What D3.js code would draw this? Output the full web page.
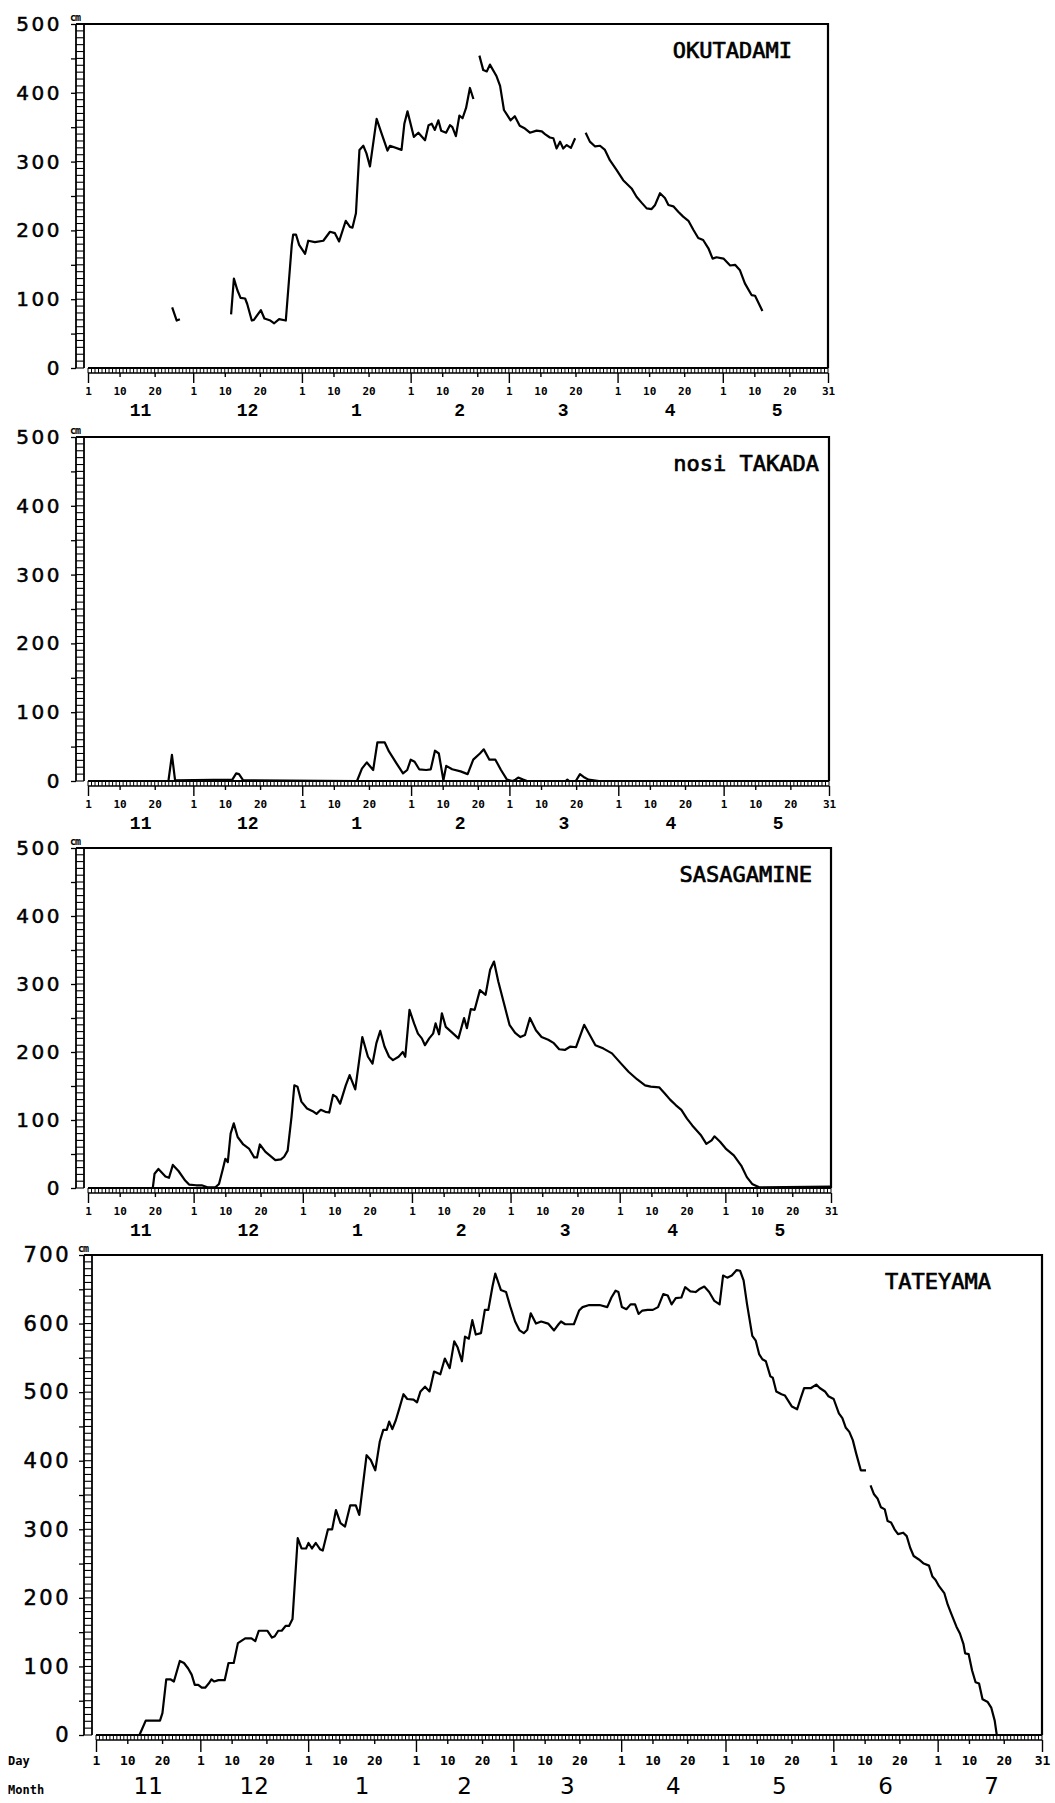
<!DOCTYPE html>
<meta charset="utf-8">
<script src="https://d3js.org/d3.v7.min.js"></script>
<style>
  body { margin: 0; background: #fff; }
</style>
<div id="chart"></div>
<script>

// ---------- data ----------
// month labels under the day axis
var monthsToMay = ["11", "12", "1", "2", "3", "4", "5"];
var monthsToJul = ["11", "12", "1", "2", "3", "4", "5", "6", "7"];
// days of the month that get a tick label
var dayTicks = [1, 10, 20];
// depth axis labels (cm)
var depthTicks500 = [0, 100, 200, 300, 400, 500];
var depthTicks700 = [0, 100, 200, 300, 400, 500, 600, 700];

// snow depth, day = days after 1 Nov, cm = depth; null = gap in the record
var okutadamiDay = [24.0, 25.3, 26.2, null,
  40.8, 41.6, 42.6, 43.5, 44.8, 45.4, 46.7, 47.3, 49.3, 50.3,
  52.0, 53.1, 54.5, 56.4, 58.1, 58.5, 59.3, 60.2, 61.9, 62.8,
  64.7, 67.1, 69.0, 70.4, 71.6, 73.5, 74.7, 75.4, 76.4, 77.4,
  78.5, 79.4, 80.4, 82.3, 83.7, 85.4, 86.1, 89.4, 90.2, 91.1,
  92.9, 94.2, 96.1, 97.1, 98.0, 98.9, 99.9, 100.7, 102.1, 103.2,
  103.9, 104.9, 105.9, 106.8, 107.8, 108.9, 109.9, null,
  111.6, 112.7, 113.7, 114.6, 116.5, 117.5, 118.6, 120.5, 121.7, 123.1,
  124.6, 126.0, 127.9, 129.4, 130.3, 131.7, 132.7, 133.6, 134.6, 135.5,
  136.5, 137.7, 138.9, null,
  141.9, 143.1, 144.6, 146.0, 147.4, 148.8, 150.7, 152.6, 155.0, 156.4,
  157.9, 159.3, 160.7, 161.7, 163.1, 164.5, 165.5, 166.9, 168.3, 169.7,
  171.2, 172.6, 174.0, 175.4, 176.9, 178.1, 179.2, 181.2, 183.1, 184.5,
  185.9, 187.3, 189.2, 190.2, 192.3];
var okutadamiCm = [88, 69, 71, null,
  78, 130, 113, 102, 101, 93, 69, 70, 84, 72,
  69, 65, 71, 69, 179, 194, 194, 179, 166, 185,
  183, 185, 198, 196, 184, 214, 205, 204, 225, 317,
  323, 312, 293, 362, 341, 316, 323, 317, 355, 373,
  336, 342, 331, 353, 355, 346, 360, 345, 342, 353,
  350, 337, 367, 363, 378, 407, 391, null,
  454, 433, 431, 441, 424, 410, 375, 360, 366, 352,
  348, 342, 345, 344, 340, 335, 334, 319, 329, 319,
  324, 320, 334, null,
  342, 329, 322, 323, 317, 302, 288, 273, 261, 249,
  240, 232, 231, 237, 254, 247, 237, 235, 227, 220,
  214, 201, 189, 186, 174, 159, 161, 159, 149, 150,
  142, 123, 106, 105, 83];

var takadaDay = [0, 22.9, 23.9, 24.8, 41.1, 42.2, 43.0, 44.2, 76.6, 78.0,
  79.4, 81.2, 82.4, 84.5, 85.7, 87.8, 89.7, 90.9, 91.9, 93.0,
  94.3, 96.3, 97.6, 98.8, 99.9, 101.2, 102.0, 103.7, 106.1, 108.1,
  109.7, 111.6, 112.7, 114.3, 116.0, 117.6, 119.3, 120.9, 121.7, 122.5,
  123.9, 125.0, 136.0, 136.5, 137.0, 138.9, 140.1, 141.4, 142.5, 145.5,
  211];
var takadaCm = [0, 0, 38, 1, 2, 11, 10, 1, 0, 18,
  27, 16, 56, 56, 43, 26, 11, 16, 31, 28,
  17, 16, 17, 44, 40, 1, 22, 17, 14, 10,
  31, 40, 46, 31, 31, 16, 2, 0, 2, 5,
  2, 0, 0, 2, 0, 0, 10, 5, 2, 0,
  0];

var sasagamineDay = [0, 18.4, 18.9, 20.0, 22.0, 23.0, 24.1, 25.7, 27.6, 28.7,
  30.7, 32.3, 33.9, 36.2, 37.2, 38.3, 39.0, 39.7, 40.5, 41.4,
  42.5, 44.1, 45.7, 47.2, 48.0, 48.8, 50.4, 51.6, 53.2, 54.8,
  55.7, 56.7, 57.8, 58.6, 59.5, 60.6, 62.2, 63.8, 64.9, 66.1,
  67.4, 68.5, 69.6, 70.5, 71.6, 73.2, 74.3, 75.9, 77.9, 79.5,
  80.8, 81.9, 83.0, 84.2, 85.5, 86.6, 88.2, 89.4, 90.1, 91.3,
  92.6, 93.7, 94.8, 95.7, 96.9, 98.0, 98.7, 99.7, 100.5, 101.6,
  103.1, 105.2, 106.8, 107.6, 108.7, 109.8, 111.3, 112.9, 114.2, 115.3,
  116.5, 118.1, 119.7, 121.3, 122.8, 124.1, 125.5, 127.2, 128.8, 130.7,
  132.3, 133.8, 135.4, 137.0, 138.6, 140.9, 142.5, 144.1, 146.4, 148.8,
  151.2, 153.5, 155.9, 158.2, 159.8, 162.2, 163.8, 165.3, 166.9, 168.5,
  170.1, 171.6, 174.0, 175.6, 177.1, 177.9, 179.5, 181.1, 183.4, 185.5,
  187.1, 188.6, 190.6, 211];
var sasagamineCm = [0, 0, 21, 28, 17, 15, 34, 25, 11, 5,
  4, 4, 1, 1, 6, 28, 43, 38, 80, 95,
  75, 64, 58, 45, 45, 64, 53, 48, 41, 42,
  46, 55, 105, 151, 149, 127, 117, 113, 109, 115,
  112, 111, 137, 134, 124, 151, 166, 145, 222, 193,
  183, 213, 231, 208, 193, 188, 193, 200, 193, 262,
  242, 227, 220, 210, 220, 227, 242, 226, 257, 237,
  230, 220, 250, 235, 263, 262, 291, 284, 321, 333,
  304, 272, 240, 228, 222, 225, 250, 232, 222, 218,
  213, 204, 203, 208, 207, 240, 225, 210, 205, 198,
  184, 171, 160, 151, 149, 148, 139, 130, 122, 115,
  102, 92, 78, 65, 70, 76, 68, 58, 48, 33,
  16, 6, 1, 2];

var tateyamaDay = [0, 12.5, 14.3, 18.4, 19.1, 20.2, 21.5, 22.4, 24.1, 25.3,
  26.5, 27.5, 28.4, 29.4, 30.4, 31.4, 32.4, 33.2, 34.0, 35.2,
  37.0, 38.1, 39.6, 40.8, 42.9, 44.7, 45.8, 46.8, 49.3, 50.6,
  51.4, 52.4, 53.4, 54.5, 55.5, 56.5, 58.0, 59.1, 60.4, 61.1,
  62.1, 63.2, 64.4, 65.2, 66.7, 67.9, 69.0, 70.3, 71.6, 73.1,
  74.7, 75.7, 77.8, 79.0, 80.3, 81.6, 82.6, 83.6, 84.3, 85.2,
  86.2, 87.2, 88.4, 89.5, 91.3, 92.3, 93.3, 94.6, 95.9, 97.2,
  99.0, 100.3, 101.7, 103.0, 104.0, 105.2, 106.1, 107.2, 108.2, 109.2,
  110.7, 111.8, 112.8, 114.0, 114.8, 116.4, 117.9, 119.1, 120.5, 121.8,
  123.0, 124.0, 125.0, 126.5, 128.0, 130.0, 131.7, 133.0, 133.7, 134.9,
  137.4, 138.9, 139.9, 141.8, 144.8, 147.0, 148.2, 149.4, 150.2, 151.2,
  152.5, 153.7, 155.0, 156.0, 157.1, 158.6, 160.1, 161.6, 163.1, 164.4,
  165.5, 166.7, 168.3, 169.4, 170.9, 172.4, 173.4, 174.9, 176.3, 177.8,
  179.3, 180.3, 181.5, 182.8, 184.2, 185.2, 186.2, 187.2, 188.7, 189.7,
  190.7, 191.6, 192.6, 193.9, 194.6, 195.6, 197.1, 198.1, 199.1, 200.1,
  201.6, 202.6, 203.6, 205.6, 207.1, 208.1, 209.6, 210.6, 212.1, 213.6,
  214.6, 215.6, 216.6, 217.6, 218.6, 219.9, 221.4, null, 222.7, 223.7,
  224.7, 225.7, 226.8, 227.6, 228.6, 229.6, 230.6, 232.1, 233.1, 234.1,
  235.1, 236.6, 238.0, 239.5, 240.5, 241.4, 242.4, 243.9, 244.9, 245.9,
  247.4, 248.4, 249.4, 249.9, 250.9, 251.9, 252.9, 253.9, 254.9, 256.4,
  257.4, 258.4, 259.0, 272];
var tateyamaCm = [0, 0, 21, 21, 32, 81, 81, 78, 108, 105,
  97, 88, 73, 73, 69, 69, 75, 81, 78, 80,
  80, 105, 105, 134, 141, 141, 137, 152, 152, 142,
  144, 152, 152, 159, 159, 169, 287, 272, 272, 280,
  272, 280, 271, 269, 300, 300, 328, 309, 304, 335,
  335, 321, 408, 401, 386, 428, 445, 445, 457, 446,
  459, 476, 497, 490, 489, 485, 501, 508, 501, 530,
  526, 549, 535, 574, 565, 545, 581, 578, 605, 584,
  586, 620, 620, 654, 673, 649, 646, 625, 603, 590,
  586, 591, 615, 600, 603, 600, 590, 599, 603, 599,
  599, 619, 624, 627, 627, 624, 638, 648, 646, 624,
  621, 628, 628, 614, 619, 620, 620, 624, 643, 641,
  628, 637, 638, 653, 647, 646, 650, 654, 646, 633,
  628, 670, 667, 670, 678, 677, 663, 628, 582, 575,
  555, 548, 545, 523, 521, 501, 497, 495, 487, 479,
  475, 491, 506, 506, 511, 506, 501, 494, 490, 469,
  462, 448, 442, 430, 410, 386, 386, null, 364, 351,
  345, 332, 329, 312, 310, 300, 293, 295, 290, 273,
  261, 256, 250, 247, 231, 226, 217, 207, 190, 177,
  158, 148, 133, 119, 118, 94, 77, 75, 52, 48,
  40, 21, 0, 0];

// ---------- layout ----------
var W = 1055, H = 1803;
var seasonStart = Date.UTC(1982, 10, 1);   // 1 Nov
function toDate(d) { return new Date(seasonStart + d * 864e5); }

var panels = [
  {title: "OKUTADAMI", day: okutadamiDay, cm: okutadamiCm, months: monthsToMay, depth: depthTicks500,
   lastDay: 211, left: 88, right: 828, top: 24, bottom: 368, titleRight: 792, big: false},
  {title: "nosi TAKADA", day: takadaDay, cm: takadaCm, months: monthsToMay, depth: depthTicks500,
   lastDay: 211, left: 88, right: 829, top: 437, bottom: 781, titleRight: 819, big: false},
  {title: "SASAGAMINE", day: sasagamineDay, cm: sasagamineCm, months: monthsToMay, depth: depthTicks500,
   lastDay: 211, left: 88, right: 831, top: 848, bottom: 1188, titleRight: 812, big: false},
  {title: "TATEYAMA", day: tateyamaDay, cm: tateyamaCm, months: monthsToJul, depth: depthTicks700,
   lastDay: 272, left: 96, right: 1042, top: 1255, bottom: 1735, titleRight: 991, big: true}
];

var svg = d3.select("#chart")
  .append("svg")
    .attr("width", W)
    .attr("height", H)
    .style("display", "block");

svg.append("rect").attr("width", W).attr("height", H).attr("fill", "#fff");

panels.forEach(function(p) {
  var g = svg.append("g");
  var yMax = d3.max(p.depth);

  var x = d3.scaleUtc()
    .domain([toDate(0), toDate(p.lastDay)])
    .range([p.left, p.right]);
  var y = d3.scaleLinear()
    .domain([0, yMax])
    .range([p.bottom, p.top]);

  var ladL = p.left - 12, ladR = p.left - 4;   // vertical ladder axis
  var xLadH = 5;                              // height of the day ladder

  // frame: top and right side
  g.append("path")
    .attr("d", "M" + ladL + "," + y(yMax) + "H" + x.range()[1] + "V" + y(0))
    .attr("fill", "none")
    .attr("stroke", "#000")
    .attr("stroke-width", 2.2);

  // depth ladder (rung every 10 cm)
  var yl = g.append("g").attr("stroke", "#000");
  yl.selectAll("line.rung")
    .data(d3.range(0, yMax + 1, 10))
    .join("line")
      .attr("class", "rung")
      .attr("x1", ladL).attr("x2", ladR)
      .attr("y1", function(d) { return y(d); })
      .attr("y2", function(d) { return y(d); })
      .attr("stroke-width", 1.1);
  [ladL, ladR].forEach(function(lx) {
    yl.append("line")
      .attr("x1", lx).attr("x2", lx)
      .attr("y1", y(0)).attr("y2", y(yMax))
      .attr("stroke-width", 1.8);
  });

  // depth axis: ticks every 50 cm, labels every 100
  var yAxis = d3.axisLeft(y)
    .tickValues(d3.range(0, yMax + 1, 50))
    .tickSize(5)
    .tickPadding(p.big ? 8 : 9)
    .tickFormat(function(d) { return p.depth.indexOf(d) >= 0 ? d : ""; });
  g.append("g")
    .attr("transform", "translate(" + ladL + ",0)")
    .call(yAxis)
    .call(function(a) { a.select(".domain").remove(); })
    .call(function(a) {
      a.selectAll("line").attr("stroke-width", 1.3);
      a.selectAll("text")
        .attr("fill", "#000")
        .attr("stroke", "#000")
        .attr("stroke-width", 0.5)
        .style("font-family", "'DejaVu Sans', sans-serif")
        .style("font-size", p.big ? "21px" : "20px")
        .style("letter-spacing", "2.5px");
    });

  // "cm" unit above the ladder
  g.append("text")
    .attr("x", ladL - 6)
    .attr("y", y(yMax) - 3)
    .style("font-family", "'DejaVu Sans Mono', monospace")
    .style("font-weight", "bold")
    .style("font-size", "10px")
    .style("letter-spacing", "-1px")
    .text("cm");

  // day ladder (rung every day)
  var xl = g.append("g").attr("stroke", "#000");
  xl.selectAll("line.rung")
    .data(d3.utcDay.range(toDate(0), toDate(p.lastDay + 1)))
    .join("line")
      .attr("class", "rung")
      .attr("x1", function(d) { return x(d); })
      .attr("x2", function(d) { return x(d); })
      .attr("y1", y(0)).attr("y2", y(0) + xLadH)
      .attr("stroke-width", 1);
  xl.append("line")
    .attr("x1", x.range()[0]).attr("x2", x.range()[1])
    .attr("y1", y(0)).attr("y2", y(0))
    .attr("stroke-width", 2.2);
  xl.append("line")
    .attr("x1", x.range()[0]).attr("x2", x.range()[1])
    .attr("y1", y(0) + xLadH).attr("y2", y(0) + xLadH)
    .attr("stroke-width", 1.6);

  // day ticks: 1, 10, 20 of each month, plus the last day
  var tickDates = d3.utcDay.range(toDate(0), toDate(p.lastDay))
    .filter(function(d) { return dayTicks.indexOf(d.getUTCDate()) >= 0; })
    .concat([toDate(p.lastDay)]);
  var isLong = function(d) { return d.getUTCDate() === 1 || +d === +toDate(p.lastDay); };

  var xAxis = d3.axisBottom(x)
    .tickValues(tickDates)
    .tickSizeInner(4)
    .tickSizeOuter(0)
    .tickFormat(function(d) { return d.getUTCDate(); });
  g.append("g")
    .attr("transform", "translate(0," + (y(0) + xLadH) + ")")
    .call(xAxis)
    .call(function(a) { a.select(".domain").remove(); })
    .call(function(a) {
      a.selectAll(".tick line")
        .attr("stroke-width", 1.4)
        .attr("y2", function(d) { return isLong(d) ? (p.big ? 12 : 10) : 4; });
      a.selectAll(".tick text")
        .attr("dy", null)
        .attr("y", p.big ? 25 : 22)
        .attr("fill", "#000")
        .style("font-family", "'DejaVu Sans Mono', monospace")
        .style("font-weight", "bold")
        .style("font-size", p.big ? "13px" : "11px");
    });

  // month numbers centred under each month
  var monthStarts = d3.utcMonth.range(toDate(0), toDate(p.lastDay));
  g.append("g")
    .selectAll("text")
    .data(monthStarts)
    .join("text")
      .attr("x", function(d) { return (x(d) + x(d3.utcMonth.offset(d, 1))) / 2; })
      .attr("y", y(0) + (p.big ? 59 : 48))
      .attr("text-anchor", "middle")
      .style("font-family", p.big ? "'DejaVu Sans', sans-serif" : "'Liberation Mono', monospace")
      .style("font-weight", p.big ? "normal" : "bold")
      .style("font-size", p.big ? "23px" : "18px")
      .text(function(d, i) { return p.months[i]; });

  // station name
  g.append("text")
    .attr("x", p.titleRight)
    .attr("y", p.top + 34)
    .attr("text-anchor", "end")
    .style("font-family", "'DejaVu Sans Mono', monospace")
    .style("font-size", "22px")
    .attr("stroke", "#000")
    .attr("stroke-width", 0.7)
    .text(p.title);

  // snow depth line
  var pts = p.day.map(function(d, i) { return {day: d, cm: p.cm[i]}; });
  var line = d3.line()
    .defined(function(d) { return d.day !== null && d.cm !== null; })
    .x(function(d) { return x(toDate(d.day)); })
    .y(function(d) { return y(d.cm); });
  g.append("path")
    .datum(pts)
    .attr("d", line)
    .attr("fill", "none")
    .attr("stroke", "#000")
    .attr("stroke-width", 2.2)
    .attr("stroke-linejoin", "round");

  // row captions on the bottom panel only
  if (p.big) {
    g.append("text")
      .attr("x", 8).attr("y", y(0) + xLadH + 25)
      .style("font-family", "'DejaVu Sans Mono', monospace")
      .style("font-weight", "bold")
      .style("font-size", "12px")
      .text("Day");
    g.append("text")
      .attr("x", 8).attr("y", y(0) + 59)
      .style("font-family", "'DejaVu Sans Mono', monospace")
      .style("font-weight", "bold")
      .style("font-size", "12px")
      .text("Month");
  }
});

</script>
